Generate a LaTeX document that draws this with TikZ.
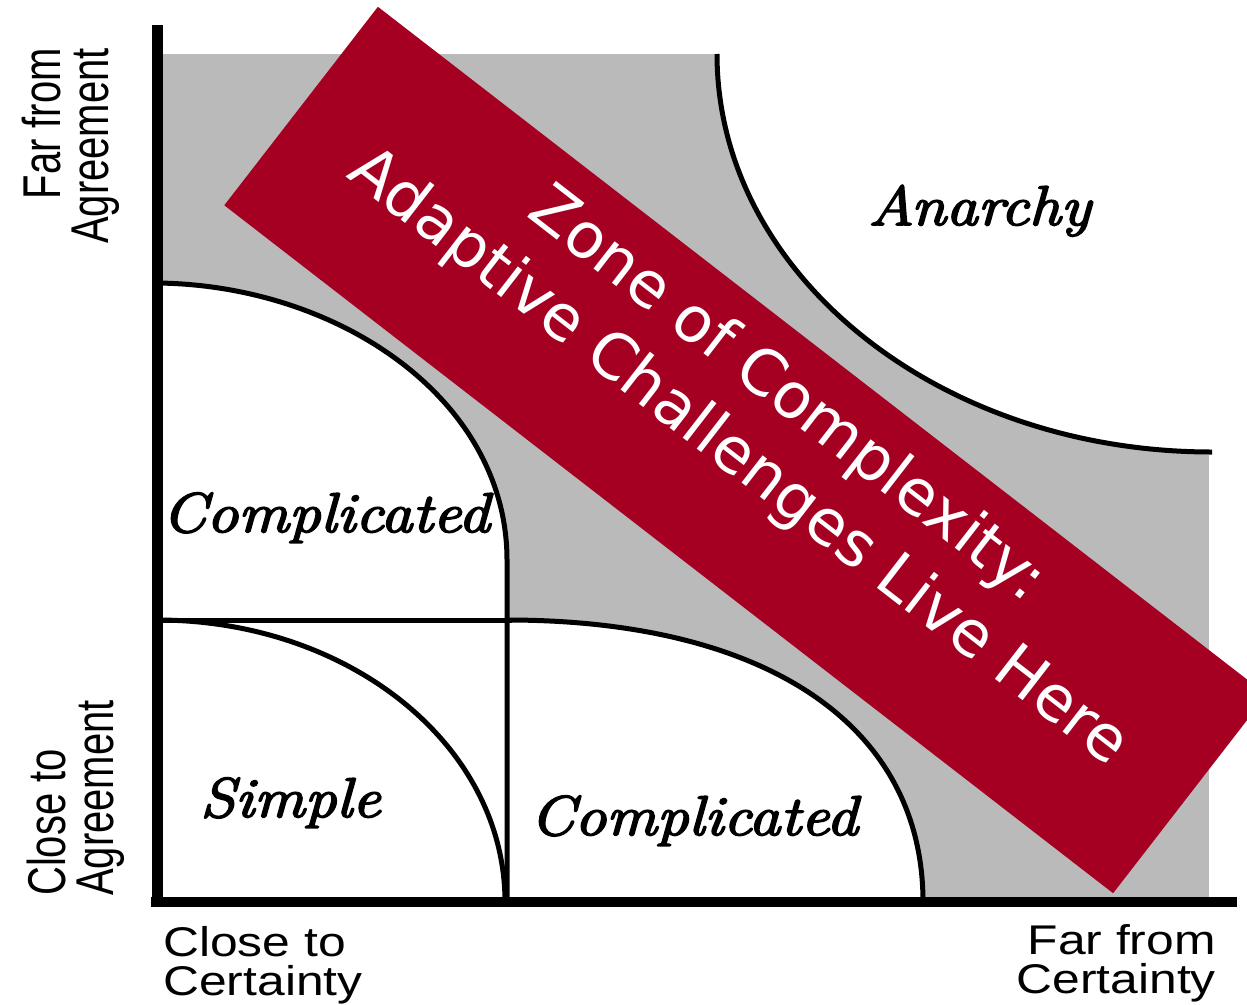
\documentclass[tikz,border=0pt]{standalone}
\usepackage{fontspec}
\newfontfamily\labelsans{Liberation Sans}
\newfontfamily\zonesans{DejaVu Sans}
\newfontfamily\regionfont{Latin Modern Roman}[ItalicFeatures={FakeBold=3}]
\definecolor{zonered}{RGB}{165,0,33}
\definecolor{zonegray}{RGB}{186,186,186}
\begin{document}
\begin{tikzpicture}[x=1pt,y=-1pt,line join=round,
  curve/.style={line width=5pt},
  regionlabel/.style={font=\regionfont\itshape\fontsize{56}{60}\selectfont, inner sep=0pt, xscale=1.13, anchor=base west},
  axislabel/.style={font=\labelsans\fontsize{41.5}{39}\selectfont, inner sep=0pt, xscale=1.2},
  vaxislabel/.style={font=\labelsans\fontsize{40}{36}\selectfont, inner sep=0pt, xscale=1.33, rotate=90}
]
\useasboundingbox (0,0) rectangle (1247,1004);
\fill[white] (0,0) rectangle (1247,1004);
\clip (0,0) rectangle (1247,1004);

% shaded zone
\fill[zonegray] (163,54) rectangle (1209,897);
% white regions
\fill[white] (717,54) .. controls (717,274) and (938,452) .. (1212,452) -- (1247,452) -- (1247,54) -- cycle;
\fill[white] (160,283) .. controls (340,285) and (507,400) .. (507,560) -- (507,620) -- (160,620) -- cycle;
\fill[white] (160,620) rectangle (507,900);
\fill[white] (508,620) .. controls (766,620) and (923,725) .. (923,897) -- (508,897) -- cycle;

% boundaries
\draw[curve] (717,54) .. controls (717,274) and (938,452) .. (1212,452);
\draw[curve] (157,283) .. controls (340,285) and (507,400) .. (507,560) -- (507,902);
\draw[curve] (157,620) -- (512,620);
\draw[curve] (157,620) .. controls (349,620) and (505,745) .. (505,902);
\draw[curve] (507,620) .. controls (766,620) and (923,725) .. (923,902);

% axes
\draw[line width=11pt] (157,25) -- (157,907);
\draw[line width=10pt] (151,902) -- (1237,902);

% region labels
\node[regionlabel] (anarchy) at (868,225) {Anarchy};
\node[regionlabel] (compup) at (162,532) {Complicated};
\node[regionlabel] (complow) at (530,835) {Complicated};
\node[regionlabel] (simple) at (200,817) {Simple};

% axis labels
\node[axislabel, align=left, anchor=north west] (xlow) at (163,926) {Close to\\Certainty};
\node[axislabel, align=right, anchor=north east] (xhigh) at (1216,924) {Far from\\Certainty};
\node[vaxislabel, align=right, anchor=south east] (yhigh) at (120,48) {Far from\\Agreement};
\node[vaxislabel, align=left, anchor=south west] (ylow) at (125,896) {Close to\\Agreement};

% red banner
\node[fill=zonered, minimum width=1124pt, minimum height=251pt, inner sep=0pt, rotate=-37.74] (zonebox) at (745.5,450) {};
\node[text=white, font=\zonesans\fontsize{63}{79}\selectfont, align=center, inner sep=0pt, rotate=-37.74] (zonetext) at (762,427) {Zone of Complexity:\\Adaptive Challenges Live Here};
\end{tikzpicture}
\end{document}
